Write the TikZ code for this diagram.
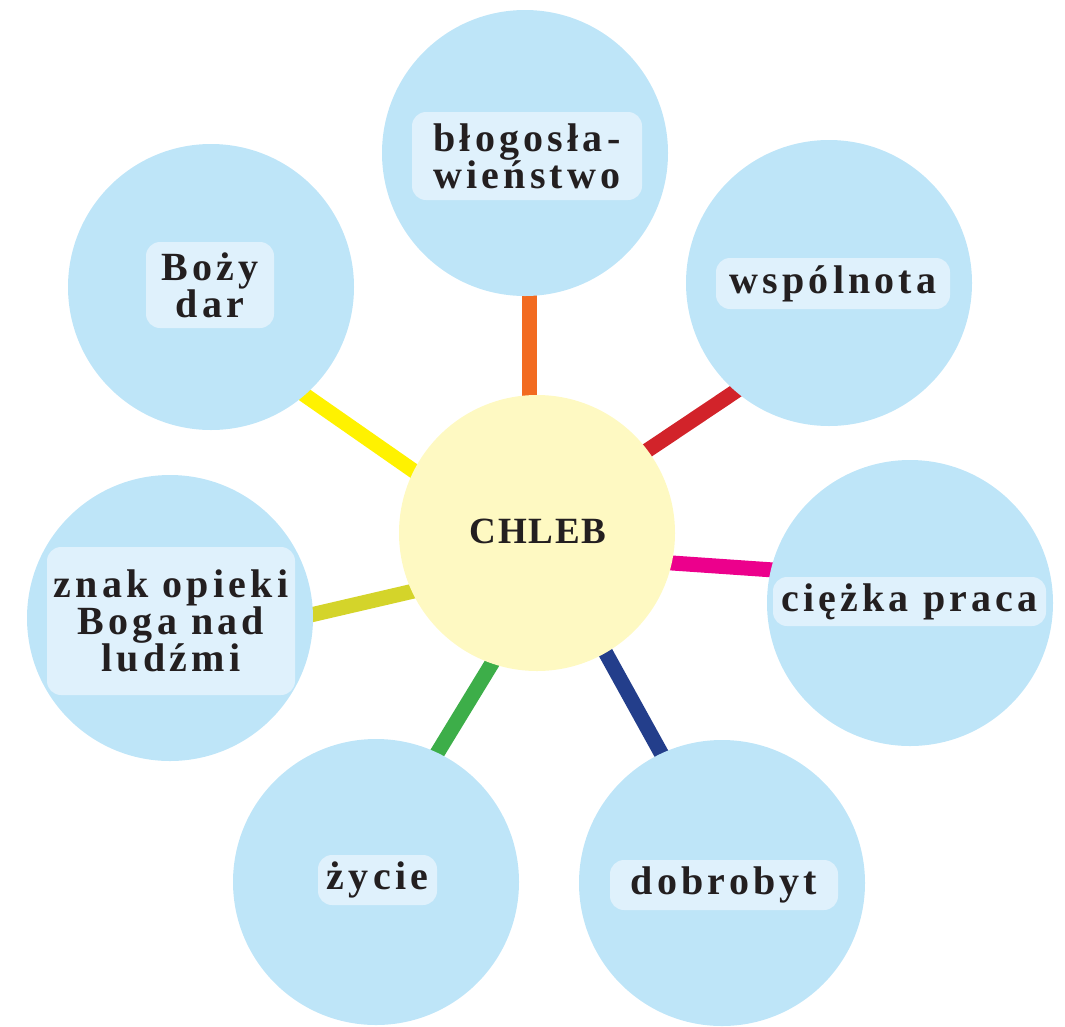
\documentclass[tikz,border=0pt]{standalone}
\usepackage{fontspec}
\setmainfont{Liberation Serif}[LetterSpace=10.5]
\newfontfamily\hubfont{Liberation Serif}[LetterSpace=5]
\usetikzlibrary{backgrounds}
\definecolor{circ}{HTML}{BEE5F8}
\definecolor{lbl}{HTML}{DFF1FC}
\definecolor{ctr}{HTML}{FEF9C2}
\definecolor{txt}{HTML}{231F20}
\definecolor{cOrange}{HTML}{F26B21}
\definecolor{cRed}{HTML}{D2232A}
\definecolor{cMagenta}{HTML}{EC008C}
\definecolor{cNavy}{HTML}{233E8B}
\definecolor{cGreen}{HTML}{3DAE49}
\definecolor{cOlive}{HTML}{D4D42A}
\definecolor{cYellow}{HTML}{FFF200}
\tikzset{
  bubble/.style={circle, fill=circ, minimum size=286pt, inner sep=0pt},
  hub/.style={circle, fill=ctr, minimum size=276pt, inner sep=0pt},
  lab/.style={rounded corners=14pt, fill=lbl, inner sep=0pt, align=center,
    text=txt, font=\fontsize{40}{37}\selectfont\bfseries},
  spoke/.style={line width=15pt}
}
\begin{document}
\begin{tikzpicture}[x=1pt,y=-1pt]
\useasboundingbox (0,0) rectangle (1065,1026);
\node[hub] (c) at (537,533) {};
\node[text=txt, font=\hubfont\fontsize{37}{37}\selectfont\bfseries] (ct) at (538,531) {CHLEB};
\node[bubble] (b1) at (525,153) {};
\node[bubble] (b2) at (829,283) {};
\node[bubble] (b3) at (910,603) {};
\node[bubble] (b4) at (722,883) {};
\node[bubble] (b5) at (376,882) {};
\node[bubble] (b6) at (170,618) {};
\node[bubble] (b7) at (211,287) {};
\coordinate (s1a) at (529,402); \coordinate (s1b) at (529,290);
\coordinate (s2a) at (639,456); \coordinate (s2b) at (745,385);
\coordinate (s3a) at (665,562.5); \coordinate (s3b) at (781,570.5);
\coordinate (s4a) at (603,648); \coordinate (s4b) at (666,762);
\coordinate (s5a) at (494,660); \coordinate (s5b) at (433,760);
\coordinate (s6a) at (418,590); \coordinate (s6b) at (302,617);
\coordinate (s7a) at (421,476); \coordinate (s7b) at (299,391);
\begin{scope}[on background layer]
\draw[spoke, cOrange] (s1a) -- (s1b);
\draw[spoke, cRed] (s2a) -- (s2b);
\draw[spoke, cMagenta] (s3a) -- (s3b);
\draw[spoke, cNavy] (s4a) -- (s4b);
\draw[spoke, cGreen] (s5a) -- (s5b);
\draw[spoke, cOlive] (s6a) -- (s6b);
\draw[spoke, cYellow] (s7a) -- (s7b);
\end{scope}
\node[lab, minimum width=230pt, minimum height=88pt] (l1) at (527,156) {błogosła-\\wieństwo};
\node[lab, minimum width=234pt, minimum height=51pt] (l2) at (833,283.5) {wspólnota};
\node[lab, minimum width=273pt, minimum height=49pt] (l3) at (909.5,601.5) {ciężka praca};
\node[lab, minimum width=228pt, minimum height=50pt] (l4) at (724,885) {dobrobyt};
\node[lab, minimum width=119pt, minimum height=50pt] (l5) at (377.5,880) {życie};
\node[lab, minimum width=248pt, minimum height=148pt] (l6) at (171,621) {znak opieki\\Boga nad\\ludźmi};
\node[lab, minimum width=128pt, minimum height=86pt] (l7) at (210,285) {Boży\\dar};
\end{tikzpicture}
\end{document}
